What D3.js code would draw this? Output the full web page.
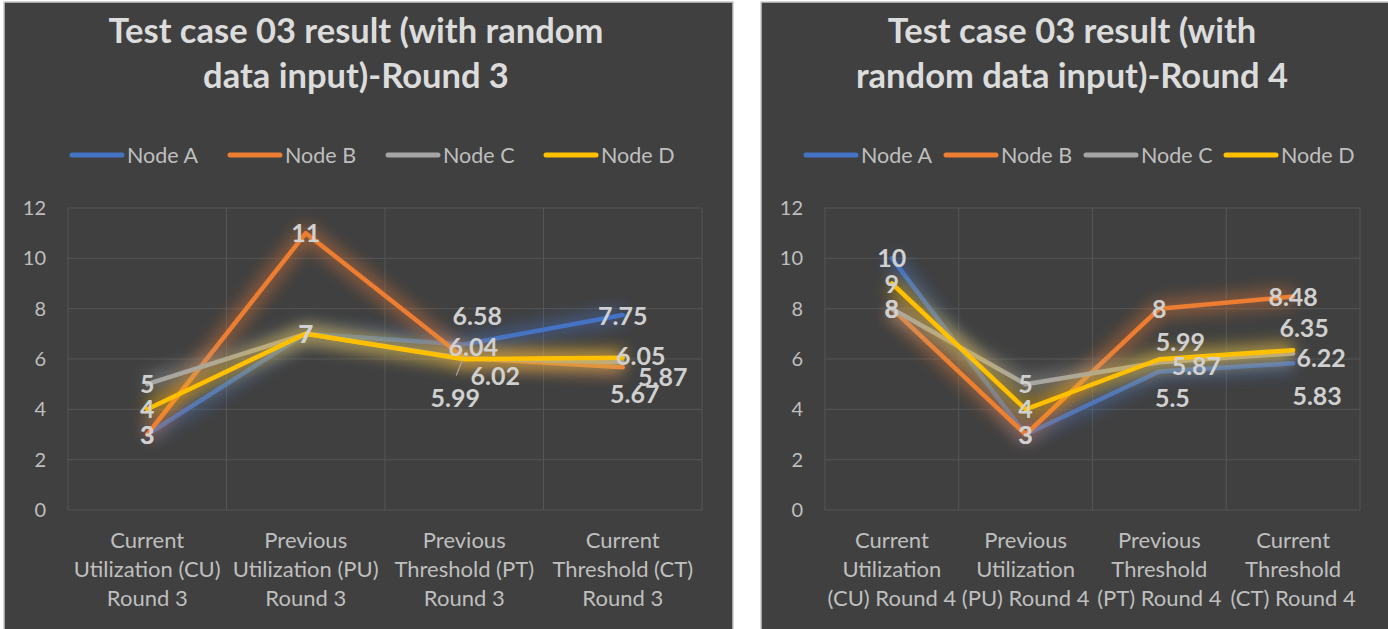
<!DOCTYPE html>
<html>
<head>
<meta charset="utf-8">
<script src="https://cdn.jsdelivr.net/npm/d3@7/dist/d3.min.js"></script>
<style>
  body { margin: 0; background: #fff; }
  svg { display: block; }
  text { font-family: Lato, "Open Sans", sans-serif; }
</style>
</head>
<body>
<svg id="vis" width="1388" height="629"></svg>
<script>
const seriesNames = ["Node A", "Node B", "Node C", "Node D"];
const seriesColors = ["#4472C4", "#ED7D31", "#A5A5A5", "#FFC000"];
const yTicks = [0, 2, 4, 6, 8, 10, 12];

// round 3
const round3Title = ["Test case 03 result (with random", "data input)-Round 3"];
const round3Categories = [
  ["Current", "Utilization (CU)", "Round 3"],
  ["Previous", "Utilization (PU)", "Round 3"],
  ["Previous", "Threshold (PT)", "Round 3"],
  ["Current", "Threshold (CT)", "Round 3"]
];
const round3NodeA = [3, 7, 6.58, 7.75];
const round3NodeB = [3, 11, 6.04, 5.67];
const round3NodeC = [5, 7, 6.02, 5.87];
const round3NodeD = [4, 7, 5.99, 6.05];

// round 4
const round4Title = ["Test case 03 result (with", "random data input)-Round 4"];
const round4Categories = [
  ["Current", "Utilization", "(CU) Round 4"],
  ["Previous", "Utilization", "(PU) Round 4"],
  ["Previous", "Threshold", "(PT) Round 4"],
  ["Current", "Threshold", "(CT) Round 4"]
];
const round4NodeA = [10, 3, 5.5, 5.83];
const round4NodeB = [8, 3, 8, 8.48];
const round4NodeC = [8, 5, 5.87, 6.22];
const round4NodeD = [9, 4, 5.99, 6.35];

// hand-moved data labels (pixel shift from the point), as in the workbook
const round3LabelShift = [
  [[0, 0], [0, 0], [13, -28], [0, 1]],
  [[0, 0], [0, 0], [9, -11], [12, 27]],
  [[0, 0], [0, 0], [31, 18], [40, 15]],
  [[0, 0], [0, 0], [-9, 39], [18, -2]]
];
const round4LabelShift = [
  [[0, 0], [0, 0], [13, 26], [24, 33]],
  [[0, 0], [0, 0], [0, 0], [0, 0]],
  [[0, 0], [0, 0], [37, 4], [28, 5]],
  [[0, 0], [0, 0], [21, -17], [11, -22]]
];

const svg = d3.select("#vis");
svg.append("rect").attr("width", 1388).attr("height", 629).attr("fill", "#fff");

svg.append("defs").append("filter")
  .attr("id", "glow")
  .attr("filterUnits", "userSpaceOnUse")
  .attr("x", 0).attr("y", 0).attr("width", 1388).attr("height", 629)
  .append("feGaussianBlur").attr("stdDeviation", 8);

const panels = [
  {
    left: 4, right: 733, plotLeft: 68, plotRight: 702, titleX: 356,
    legendX: 70, legendStep: 158,
    title: round3Title, categories: round3Categories,
    series: [round3NodeA, round3NodeB, round3NodeC, round3NodeD],
    shift: round3LabelShift, leader: [2, 2]
  },
  {
    left: 761, right: 1390, plotLeft: 825, plotRight: 1360, titleX: 1072,
    legendX: 804, legendStep: 140,
    title: round4Title, categories: round4Categories,
    series: [round4NodeA, round4NodeB, round4NodeC, round4NodeD],
    shift: round4LabelShift, leader: null
  }
];

const plotTop = 208, plotBottom = 510;

panels.forEach(drawPanel);

function drawPanel(p) {
  const g = svg.append("g");

  g.append("rect")
    .attr("x", p.left).attr("y", 2)
    .attr("width", p.right - p.left).attr("height", 640)
    .attr("fill", "#404040")
    .attr("stroke", "#c9c9c9").attr("stroke-width", 1.5);

  // title
  g.append("text")
    .attr("x", p.titleX).attr("y", 43)
    .attr("text-anchor", "middle")
    .attr("fill", "#dcdcdc")
    .attr("font-size", 34.5).attr("font-weight", "bold")
    .selectAll("tspan").data(p.title).join("tspan")
    .attr("x", p.titleX)
    .attr("dy", (d, i) => i ? 45 : 0)
    .text(d => d);

  // legend
  const lg = g.append("g").selectAll("g").data(seriesNames).join("g")
    .attr("transform", (d, i) => `translate(${p.legendX + i * p.legendStep}, 155)`);
  lg.append("line")
    .attr("x1", 2).attr("x2", 52)
    .attr("stroke", (d, i) => seriesColors[i])
    .attr("stroke-width", 5).attr("stroke-linecap", "round");
  lg.append("text")
    .attr("x", 57).attr("dy", "0.35em")
    .attr("fill", "#bfbfbf").attr("font-size", 21.5)
    .text(d => d);

  const idx = d3.range(p.categories.length);
  const band = d3.scaleBand().domain(idx).range([p.plotLeft, p.plotRight]);
  const x = i => band(i) + band.bandwidth() / 2;
  const y = d3.scaleLinear().domain([0, 12]).range([plotBottom, plotTop]);

  // gridlines
  g.append("g").selectAll("line").data(yTicks).join("line")
    .attr("x1", p.plotLeft).attr("x2", p.plotRight)
    .attr("y1", d => y(d)).attr("y2", d => y(d))
    .attr("stroke", "#555").attr("stroke-width", 1);
  g.append("g").selectAll("line").data(d3.range(idx.length + 1)).join("line")
    .attr("x1", d => p.plotLeft + d * band.bandwidth())
    .attr("x2", d => p.plotLeft + d * band.bandwidth())
    .attr("y1", plotTop).attr("y2", plotBottom)
    .attr("stroke", "#555").attr("stroke-width", 1);

  // y axis labels
  const ya = g.append("g")
    .attr("transform", `translate(${p.plotLeft}, 0)`)
    .call(d3.axisLeft(y).tickValues(yTicks).tickSize(0).tickPadding(22));
  ya.select(".domain").remove();
  ya.selectAll("text").attr("fill", "#bfbfbf").attr("font-size", 20)
    .attr("font-family", "Lato, sans-serif");

  // x axis labels
  const xa = g.append("g")
    .attr("transform", `translate(0, ${plotBottom})`)
    .call(d3.axisBottom(band).tickSize(0).tickFormat(""));
  xa.select(".domain").remove();
  xa.selectAll(".tick text")
    .attr("fill", "#bfbfbf").attr("font-size", 22)
    .attr("font-family", "Lato, sans-serif")
    .attr("y", 38)
    .selectAll("tspan").data(d => p.categories[d]).join("tspan")
    .attr("x", 0)
    .attr("dy", (d, i) => i ? 29 : 0)
    .text(d => d);

  const line = d3.line().x((d, i) => x(i)).y(d => y(d));

  p.series.forEach((vals, s) => {
    g.append("path")
      .attr("d", line(vals))
      .attr("fill", "none")
      .attr("stroke", seriesColors[s])
      .attr("stroke-opacity", 0.45)
      .attr("stroke-width", 16)
      .attr("stroke-linejoin", "round")
      .attr("filter", "url(#glow)");
    g.append("path")
      .attr("d", line(vals))
      .attr("fill", "none")
      .attr("stroke", seriesColors[s])
      .attr("stroke-width", 4.5)
      .attr("stroke-linejoin", "round")
      .attr("stroke-linecap", "round");
  });

  // leader line for the moved label
  if (p.leader) {
    const [s, c] = p.leader;
    const px = x(c), py = y(p.series[s][c]);
    g.append("line")
      .attr("x1", px - 2).attr("y1", py + 2)
      .attr("x2", px - 8).attr("y2", py + 17)
      .attr("stroke", "#a6a6a6").attr("stroke-width", 1.2);
  }

  // data labels
  p.series.forEach((vals, s) => {
    g.append("g").selectAll("text").data(vals).join("text")
      .attr("x", (d, i) => x(i) + p.shift[s][i][0])
      .attr("y", (d, i) => y(d) + p.shift[s][i][1])
      .attr("dy", "0.36em")
      .attr("text-anchor", "middle")
      .attr("fill", "#d0d0d0")
      .attr("font-size", 25).attr("font-weight", "bold")
      .text(d => d);
  });
}
</script>
</body>
</html>
